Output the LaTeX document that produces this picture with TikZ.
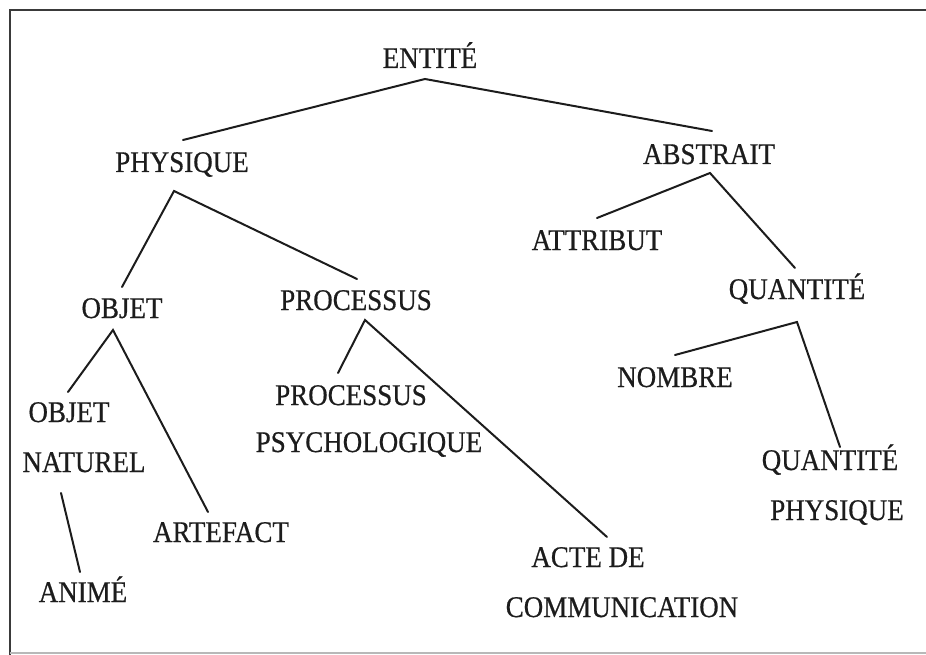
\documentclass[tikz,border=0pt]{standalone}
\usepackage{fontspec}
\setmainfont[FakeStretch=0.9,FakeBold=0.6]{Liberation Serif}
\definecolor{ink}{HTML}{1C1C1C}
\definecolor{framedark}{HTML}{3A3A3A}
\definecolor{framelight}{HTML}{B8B8B8}
\begin{document}
\begin{tikzpicture}[x=1pt,y=-1pt,
  lbl/.style={anchor=base,inner sep=0pt,font=\fontsize{30}{33}\selectfont,text=ink},
  edge/.style={draw=ink,line width=2pt,line cap=round},
  framedk/.style={draw=framedark,line width=2.6pt},
  framelt/.style={draw=framelight,line width=1.2pt}]
\useasboundingbox (0,0) rectangle (926,655);

% frame
\draw[framedk] (10,655) -- (10,10) -- (926,10);
\draw[framelt] (10,653) -- (926,653);

% labels (positioned by baseline centre)
\node[lbl] (entite)   at (430,68)  {ENTITÉ};
\node[lbl] (physique) at (182,172) {PHYSIQUE};
\node[lbl] (abstrait) at (709,164) {ABSTRAIT};
\node[lbl] (attribut) at (597,250) {ATTRIBUT};
\node[lbl] (objet)    at (122,318) {OBJET};
\node[lbl] (processus) at (356,310) {PROCESSUS};
\node[lbl] (quantite) at (797,299) {QUANTITÉ};
\node[lbl] (nombre)   at (675,387) {NOMBRE};
\node[lbl] (objnat1)  at (69,422)  {OBJET};
\node[lbl] (objnat2)  at (84,472)  {NATUREL};
\node[lbl] (psy1)     at (351,405) {PROCESSUS};
\node[lbl] (psy2)     at (369,452) {PSYCHOLOGIQUE};
\node[lbl] (qphys1)   at (830,470) {QUANTITÉ};
\node[lbl] (qphys2)   at (837,520) {PHYSIQUE};
\node[lbl] (artefact) at (221,542) {ARTEFACT};
\node[lbl] (acte1)    at (588,567) {ACTE DE};
\node[lbl] (acte2)    at (622,617) {COMMUNICATION};
\node[lbl] (anime)    at (83,602)  {ANIMÉ};

% attachment points of the branches
\coordinate (entite-s)    at (425,79);
\coordinate (physique-n)  at (183,140);
\coordinate (abstrait-n)  at (712,131);
\coordinate (physique-s)  at (174,191);
\coordinate (objet-n)     at (122,287);
\coordinate (processus-n) at (357,279);
\coordinate (objet-s)     at (113,330);
\coordinate (objnat-n)    at (68,392);
\coordinate (artefact-n)  at (208,512);
\coordinate (processus-s) at (365,320);
\coordinate (psy-n)       at (338,373);
\coordinate (acte-n)      at (607,537);
\coordinate (objnat-s)    at (61,493);
\coordinate (anime-n)     at (80,572);
\coordinate (abstrait-s)  at (710,173);
\coordinate (attribut-n)  at (597,218);
\coordinate (quantite-n)  at (795,268);
\coordinate (quantite-s)  at (797,322);
\coordinate (nombre-n)    at (675,355);
\coordinate (qphys-n)     at (840,447);

% branches
\draw[edge] (physique-n) -- (entite-s) -- (abstrait-n);
\draw[edge] (objet-n) -- (physique-s) -- (processus-n);
\draw[edge] (objnat-n) -- (objet-s) -- (artefact-n);
\draw[edge] (psy-n) -- (processus-s) -- (acte-n);
\draw[edge] (objnat-s) -- (anime-n);
\draw[edge] (attribut-n) -- (abstrait-s) -- (quantite-n);
\draw[edge] (nombre-n) -- (quantite-s) -- (qphys-n);
\end{tikzpicture}
\end{document}
